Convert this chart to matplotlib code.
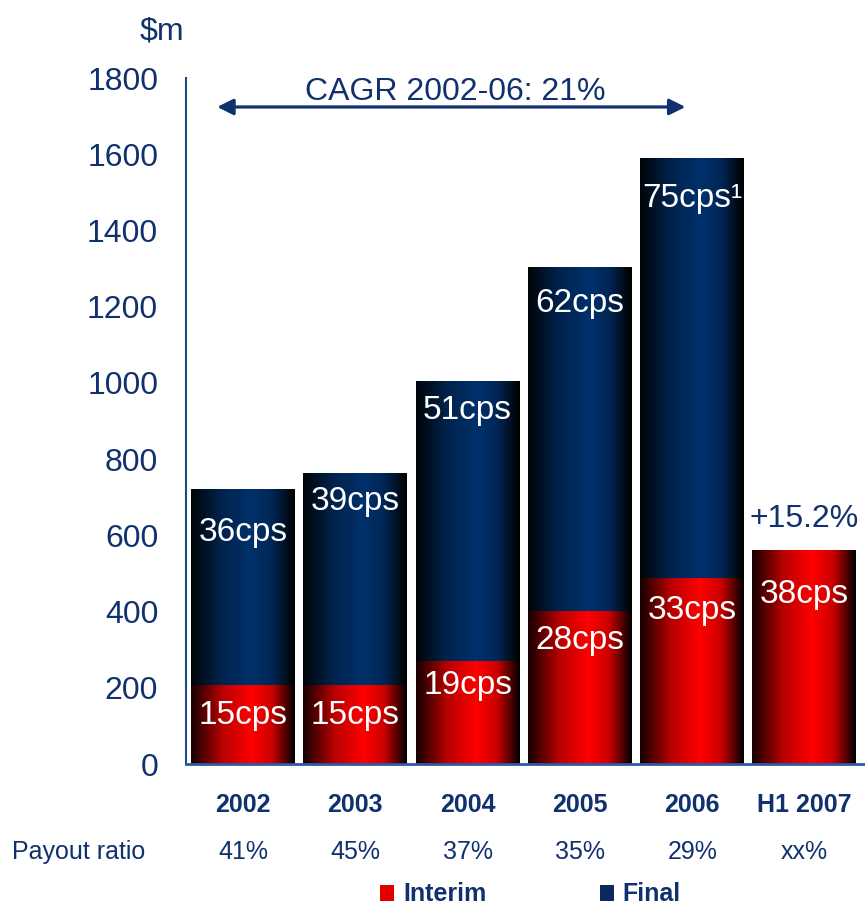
import numpy as np
import matplotlib as mpl
mpl.use('Agg')
import matplotlib.pyplot as plt
from matplotlib.patches import Rectangle

plt.rcParams['font.family'] = ['Liberation Sans', 'DejaVu Sans']

years = ['2002', '2003', '2004', '2005', '2006', 'H1 2007']
interim = [207, 207, 270, 401, 488, 561]
final = [515, 556, 735, 903, 1102, 0]
interim_labels = ['15cps', '15cps', '19cps', '28cps', '33cps', '38cps']
final_labels = ['36cps', '39cps', '51cps', '62cps', '75cps\u00b9', None]
payout = ['41%', '45%', '37%', '35%', '29%', 'xx%']
cagr_text = 'CAGR 2002-06: 21%'
h1_growth = '+15.2%'

navy = '#10306E'

# horizontal shading of the bars: dark at the edges, bright just right of centre
t = np.linspace(0, 1, 200)
shade = np.interp(t, [0, 0.3, 0.58, 0.78, 1.0], [0.08, 0.72, 1.0, 0.8, 0.0])


def gradient(rgb):
    g = np.outer(shade, rgb)
    return g[np.newaxis, :, :]


red_grad = gradient([1.0, 0.0, 0.0])
navy_grad = gradient([0.0, 0.19, 0.42])

fig = plt.figure(figsize=(8.65, 9.07), dpi=100)
ax = fig.add_axes([186 / 865, (907 - 764) / 907, (865 - 186) / 865, (764 - 78) / 907])

x = np.arange(len(years))
w = 0.926
bars_i = ax.bar(x, interim, width=w, color='none', linewidth=0)
bars_f = ax.bar(x, final, width=w, bottom=interim, color='none', linewidth=0)

for bars, grad in ((bars_i, red_grad), (bars_f, navy_grad)):
    for b in bars:
        if b.get_height() <= 0:
            continue
        x0, y0 = b.get_xy()
        im = ax.imshow(grad, extent=[x0, x0 + b.get_width(), y0, y0 + b.get_height()],
                       aspect='auto', interpolation='bilinear', zorder=2)
        im.set_clip_path(b)

ax.set_xlim(-0.508, 5.539)
ax.set_ylim(0, 1800)
ax.set_aspect('auto')

# value labels inside the bars
off_i = [30, 30, 24, 29, 32, 44]
off_f = [44, 28, 30, 36, 40, 0]
for i in x:
    ax.annotate(interim_labels[i], xy=(i, interim[i]), xytext=(0, -off_i[i]),
                textcoords='offset pixels', ha='center', va='center',
                color='white', fontsize=24, zorder=4)
    if final_labels[i]:
        ax.annotate(final_labels[i], xy=(i, interim[i] + final[i]), xytext=(0, -off_f[i]),
                    textcoords='offset pixels', ha='center', va='center',
                    color='white', fontsize=24, zorder=4)

ax.text(5, 622, h1_growth, ha='center', va='baseline', color=navy, fontsize=23)

# CAGR arrow
ax.annotate('', xy=(3.94, 1724), xytext=(-0.23, 1724),
            arrowprops=dict(arrowstyle='<|-|>', color=navy, lw=2.3, mutation_scale=24,
                            shrinkA=0, shrinkB=0))
ax.text(1.89, 1742, cagr_text, ha='center', va='baseline', color=navy, fontsize=23)

ax.set_yticks(range(0, 1801, 200))
ax.tick_params(axis='y', length=0, pad=20, labelsize=23, labelcolor=navy)
ax.set_xticks([])
for s in ['top', 'right']:
    ax.spines[s].set_visible(False)
ax.spines['left'].set_color('#1F4A8A')
ax.spines['left'].set_linewidth(1.5)
ax.spines['bottom'].set_color('#2E5A9E')
ax.spines['bottom'].set_linewidth(2)
ax.spines['bottom'].set_zorder(5)

fig.text(140 / 865, (907 - 40) / 907, '$m', color=navy, fontsize=23, va='baseline')

# year row and payout row
trans = mpl.transforms.blended_transform_factory(ax.transData, fig.transFigure)
for i in x:
    ax.text(i, (907 - 812) / 907, years[i], transform=trans, ha='center', va='baseline',
            color=navy, fontsize=18, fontweight='bold', clip_on=False)
    ax.text(i, (907 - 859) / 907, payout[i], transform=trans, ha='center', va='baseline',
            color=navy, fontsize=18, clip_on=False)
fig.text(12 / 865, (907 - 859) / 907, 'Payout ratio', color=navy, fontsize=18, va='baseline')

# legend
red_sq = Rectangle((380 / 865, 6 / 907), 14 / 865, 16 / 907, transform=fig.transFigure,
                   facecolor='none', edgecolor='none')
fig.add_artist(red_sq)
fig.add_artist(Rectangle((380 / 865, 6 / 907), 14 / 865, 16 / 907,
                         transform=fig.transFigure, facecolor='#E00000', edgecolor='none'))
fig.text(403 / 865, 6 / 907, 'Interim', color=navy, fontsize=18, fontweight='bold', va='baseline')
fig.add_artist(Rectangle((600 / 865, 6 / 907), 14 / 865, 16 / 907,
                         transform=fig.transFigure, facecolor='#0A2A5E', edgecolor='none'))
fig.text(622 / 865, 6 / 907, 'Final', color=navy, fontsize=18, fontweight='bold', va='baseline')

fig.savefig('out.png', dpi=100)
